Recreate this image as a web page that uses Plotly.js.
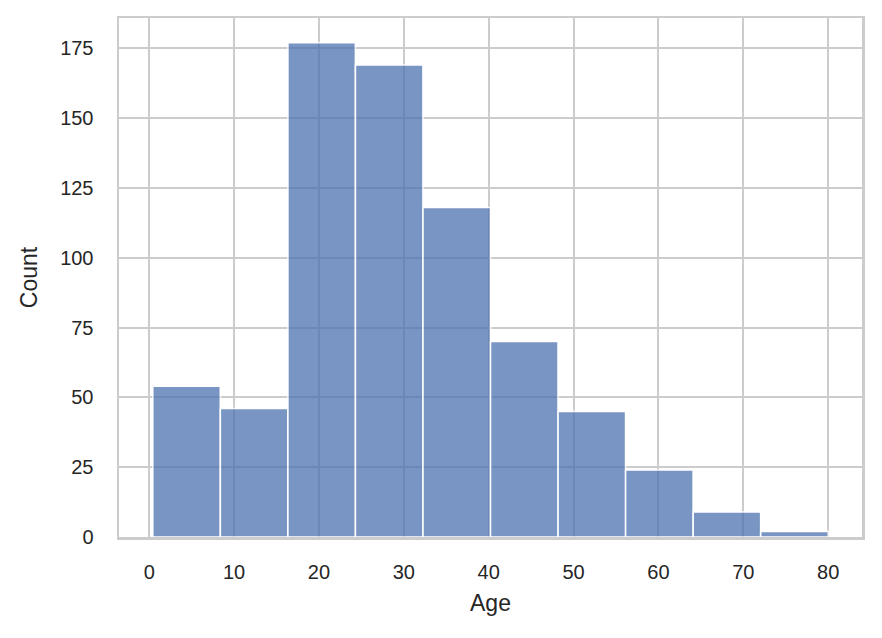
<!DOCTYPE html>
<html>
<head>
<meta charset="utf-8">
<script src="https://cdn.plot.ly/plotly-3.0.1.min.js"></script>
<style>
  html, body { margin: 0; padding: 0; background: #fff; }
  #chart { width: 882px; height: 638px; }
</style>
</head>
<body>
<div id="chart"></div>
<script>
// Age histogram, 10 bins between the min and max age
const ageMin = 0.42;
const ageMax = 80;
const binCounts = [54, 46, 177, 169, 118, 70, 45, 24, 9, 2];
const xTicks = [0, 10, 20, 30, 40, 50, 60, 70, 80];
const yTicks = [0, 25, 50, 75, 100, 125, 150, 175];

const binWidth = (ageMax - ageMin) / binCounts.length;
const binLeft = binCounts.map((_, i) => ageMin + i * binWidth);
const binCenters = binLeft.map(v => v + binWidth / 2);

// matplotlib-style 5% margins
const pad = (ageMax - ageMin) * 0.05;
const yMax = Math.max(...binCounts) * 1.05;

const gridColor = '#cccccc';
const textColor = '#262626';
const fontFamily = 'Liberation Sans, Arial, sans-serif';

const trace = {
    type: 'bar',
    x: binCenters,
    y: binCounts,
    width: binCounts.map(() => binWidth),
    marker: {
        color: '#4c72b0',
        opacity: 0.75,
        line: { color: '#ffffff', width: 1.6 }
    },
    hoverinfo: 'x+y',
    showlegend: false,
};

const axisCommon = {
    showgrid: true,
    gridcolor: gridColor,
    gridwidth: 2,
    zeroline: false,
    showline: true,
    mirror: true,
    linecolor: gridColor,
    linewidth: 2.5,
    ticks: '',
    tickfont: { family: fontFamily, size: 20, color: textColor },
};

const layout = {
    width: 882,
    height: 638,
    paper_bgcolor: '#ffffff',
    plot_bgcolor: '#ffffff',
    margin: { l: 119, r: 20, t: 18, b: 101, pad: 0 },
    bargap: 0,
    xaxis: Object.assign({}, axisCommon, {
        range: [ageMin - pad, ageMax + pad],
        tickvals: xTicks,
        ticktext: xTicks.map(String),
        ticklabelstandoff: 15,
        title: {
            text: 'Age',
            font: { family: fontFamily, size: 23, color: textColor },
            standoff: 14
        },
    }),
    yaxis: Object.assign({}, axisCommon, {
        range: [0, yMax],
        tickvals: yTicks,
        ticktext: yTicks.map(String),
        ticklabelstandoff: 19,
        title: {
            text: 'Count',
            font: { family: fontFamily, size: 23, color: textColor },
            standoff: 16
        },
    }),
};

Plotly.newPlot('chart', [trace], layout, { displayModeBar: false, staticPlot: true });
</script>
</body>
</html>
